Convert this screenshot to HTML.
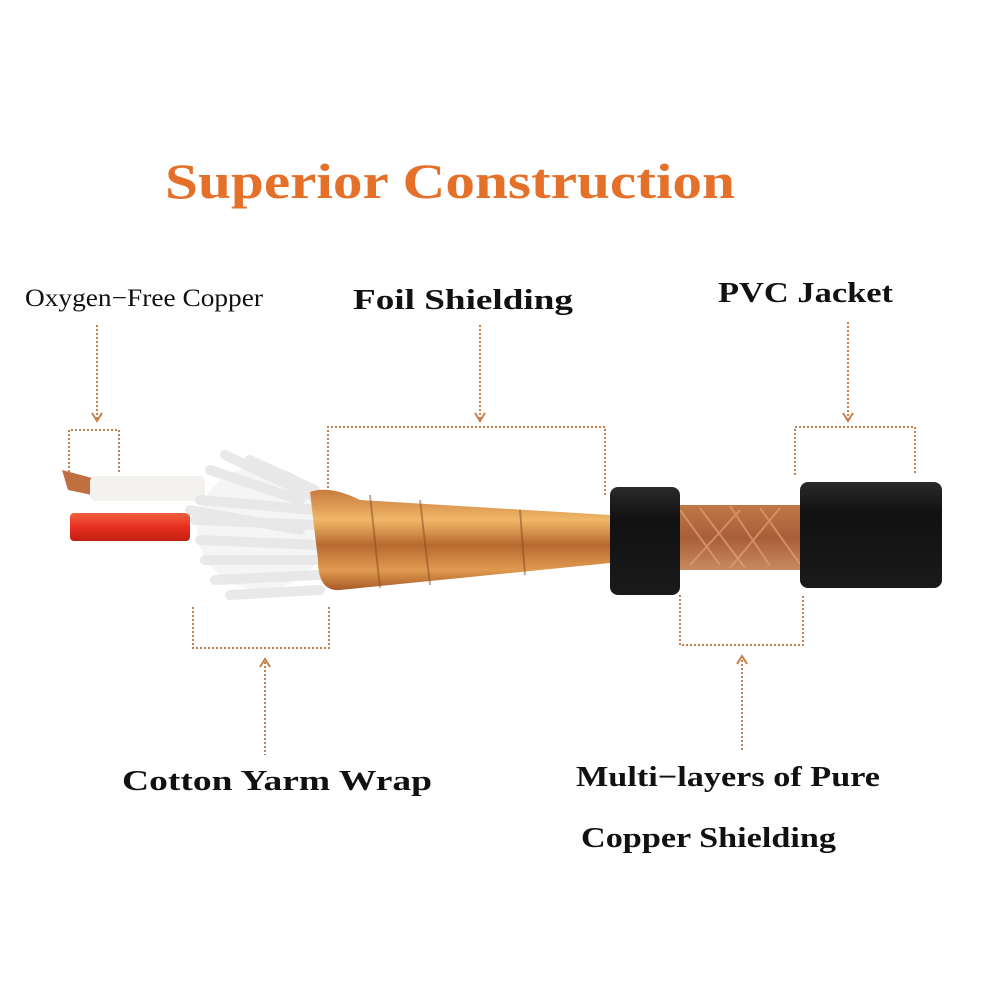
<!DOCTYPE html>
<html><head><meta charset="utf-8"><style>html,body{margin:0;padding:0;background:#fff}svg{display:block}</style></head>
<body>
<svg width="1000" height="1000" viewBox="0 0 1000 1000" xmlns="http://www.w3.org/2000/svg">
<defs>
<linearGradient id="foil" x1="0" y1="0" x2="0" y2="1">
<stop offset="0" stop-color="#c87a3e"/><stop offset="0.3" stop-color="#f0b868"/><stop offset="0.55" stop-color="#b86a30"/><stop offset="0.8" stop-color="#e09a50"/><stop offset="1" stop-color="#a85a28"/></linearGradient>
<linearGradient id="braid" x1="0" y1="0" x2="0" y2="1">
<stop offset="0" stop-color="#c07848"/><stop offset="0.5" stop-color="#a85e38"/><stop offset="1" stop-color="#c88a60"/></linearGradient>
<linearGradient id="blk" x1="0" y1="0" x2="0" y2="1">
<stop offset="0" stop-color="#2a2a2a"/><stop offset="0.3" stop-color="#111"/><stop offset="1" stop-color="#1a1a1a"/></linearGradient>
<linearGradient id="red" x1="0" y1="0" x2="0" y2="1">
<stop offset="0" stop-color="#f06040"/><stop offset="0.5" stop-color="#e83020"/><stop offset="1" stop-color="#c02010"/></linearGradient>
</defs>
<rect width="1000" height="1000" fill="#fff"/>
<text x="165" y="198" font-family="Liberation Serif, serif" font-weight="bold" font-size="50" fill="#e4702a" textLength="570" lengthAdjust="spacingAndGlyphs">Superior Construction</text>
<g font-family="Liberation Serif, serif" fill="#111">
<text x="25" y="306" font-size="25" textLength="238" lengthAdjust="spacingAndGlyphs">Oxygen−Free Copper</text>
<text x="353" y="309" font-size="28" font-weight="bold" textLength="220" lengthAdjust="spacingAndGlyphs">Foil Shielding</text>
<text x="718" y="302" font-size="28" font-weight="bold" textLength="175" lengthAdjust="spacingAndGlyphs">PVC Jacket</text>
<text x="122" y="790" font-size="28" font-weight="bold" textLength="310" lengthAdjust="spacingAndGlyphs">Cotton Yarm Wrap</text>
<text x="576" y="786" font-size="28" font-weight="bold" textLength="304" lengthAdjust="spacingAndGlyphs">Multi−layers of Pure</text>
<text x="581" y="847" font-size="28" font-weight="bold" textLength="255" lengthAdjust="spacingAndGlyphs">Copper Shielding</text>
</g>
<g stroke="#c8804a" stroke-width="2" stroke-dasharray="2 2" fill="none">
<path d="M97 325V420"/><path d="M69 472V430H119V472"/>
<path d="M480 325V420"/><path d="M328 540V427H605V495"/>
<path d="M848 322V420"/><path d="M795 475V427H915V475"/>
<path d="M193 607V648H329V607"/><path d="M265 662V755"/>
<path d="M680 595V645H803V595"/><path d="M742 660V752"/>
</g>
<g stroke="#c8804a" stroke-width="2" fill="none">
<path d="M92 413L97 421L102 413"/><path d="M475 413L480 421L485 413"/><path d="M843 413L848 421L853 413"/>
<path d="M260 667L265 659L270 667"/><path d="M737 664L742 656L747 664"/>
</g>
<!-- cable -->
<path d="M62 470L92 478L92 495L68 490Z" fill="#c07040"/>
<rect x="90" y="476" width="115" height="25" rx="6" fill="#f4f2ee"/>
<rect x="70" y="513" width="120" height="28" rx="4" fill="url(#red)"/>
<ellipse cx="262" cy="528" rx="65" ry="62" fill="#f2f2f2" opacity="0.8"/>
<g stroke="#e8e8e8" stroke-width="10" stroke-linecap="round" opacity="0.95">
<path d="M210 470L300 500"/><path d="M225 455L310 495"/><path d="M200 500L315 510"/><path d="M195 520L320 525"/>
<path d="M200 540L320 545"/><path d="M205 560L315 560"/><path d="M215 580L320 575"/><path d="M230 595L320 590"/>
<path d="M250 460L315 490"/><path d="M190 510L300 530"/>
</g>
<path d="M310 492Q330 485 360 500L610 515L610 563L340 590Q318 592 318 560Z" fill="url(#foil)"/>
<path d="M420 500L430 585M520 510L525 575M370 495L380 588" stroke="#8a4a20" stroke-width="2" opacity="0.5"/>
<rect x="672" y="505" width="135" height="65" fill="url(#braid)"/>
<path d="M680 510L720 565M700 508L745 568M730 506L770 566M760 508L800 564M690 565L740 510M730 568L780 508" stroke="#e0a070" stroke-width="2" opacity="0.7"/>
<rect x="610" y="487" width="70" height="108" rx="8" fill="url(#blk)"/>
<rect x="800" y="482" width="142" height="106" rx="8" fill="url(#blk)"/>
</svg>
</body></html>
